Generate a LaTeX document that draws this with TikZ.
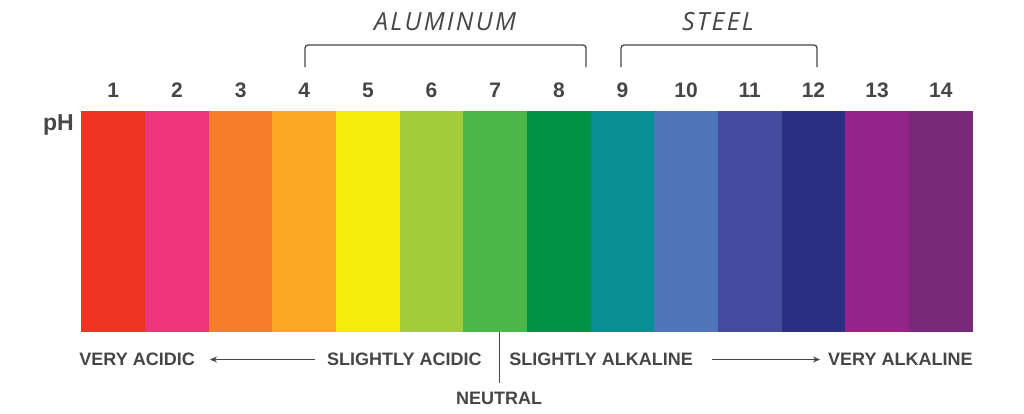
\documentclass[tikz,border=0pt]{standalone}
\usepackage{fontspec}
\setmainfont{Liberation Sans}
\newfontfamily\handfont[LetterSpace=9]{Open Sans}
\usetikzlibrary{arrows.meta,positioning}
\definecolor{Ink}{HTML}{464648}
\definecolor{Scarlet}{HTML}{EE3524}
\definecolor{Pink}{HTML}{EE3579}
\definecolor{Tangerine}{HTML}{F57F29}
\definecolor{Amber}{HTML}{FAA823}
\definecolor{Lemon}{HTML}{F4EA0C}
\definecolor{Lime}{HTML}{A3CB3A}
\definecolor{Grass}{HTML}{4CB749}
\definecolor{Emerald}{HTML}{009345}
\definecolor{Teal}{HTML}{069094}
\definecolor{Cornflower}{HTML}{4F75BA}
\definecolor{Indigo}{HTML}{444A9D}
\definecolor{Navy}{HTML}{2A2F82}
\definecolor{Magenta}{HTML}{942488}
\definecolor{Plum}{HTML}{7A287A}

\begin{document}
\begin{tikzpicture}[x=1pt,y=-1pt,every node/.style={text=Ink},cell/.style={minimum width=63.65pt,minimum height=221.5pt,inner sep=0pt,outer sep=0pt},num/.style={font=\bfseries\fontsize{21}{21}\selectfont,inner sep=0pt},tag/.style={font=\bfseries\fontsize{18}{18}\selectfont,inner sep=0pt},metal/.style={font=\handfont\itshape\fontsize{25}{25}\selectfont,inner sep=0pt},arrow/.style={-{Stealth[length=7pt,width=6pt]},line width=0.9pt,draw=Ink},bracket/.style={line width=1.3pt,draw=Ink,rounded corners=3pt}]
\useasboundingbox[fill=white] (0,0) rectangle (1024,413);

\node[cell,fill=Scarlet] (c1) at (113.3,221.3) {}; \node[cell,fill=Pink,right=0pt of c1] (c2) {}; \node[cell,fill=Tangerine,right=0pt of c2] (c3) {}; \node[cell,fill=Amber,right=0pt of c3] (c4) {};
\node[cell,fill=Lemon,right=0pt of c4] (c5) {}; \node[cell,fill=Lime,right=0pt of c5] (c6) {}; \node[cell,fill=Grass,right=0pt of c6] (c7) {}; \node[cell,fill=Emerald,right=0pt of c7] (c8) {};
\node[cell,fill=Teal,right=0pt of c8] (c9) {}; \node[cell,fill=Cornflower,right=0pt of c9] (c10) {}; \node[cell,fill=Indigo,right=0pt of c10] (c11) {};
\node[cell,fill=Navy,right=0pt of c11] (c12) {}; \node[cell,fill=Magenta,right=0pt of c12] (c13) {}; \node[cell,fill=Plum,right=0pt of c13] (c14) {};

\node[num,above=13pt of c1] (n1) {1}; \node[num,above=13pt of c2] (n2) {2}; \node[num,above=13pt of c3] (n3) {3}; \node[num,above=13pt of c4] (n4) {4}; \node[num,above=13pt of c5] (n5) {5};
\node[num,above=13pt of c6] (n6) {6}; \node[num,above=13pt of c7] (n7) {7}; \node[num,above=13pt of c8] (n8) {8}; \node[num,above=13pt of c9] (n9) {9}; \node[num,above=13pt of c10] (n10) {10};
\node[num,above=13pt of c11] (n11) {11}; \node[num,above=13pt of c12] (n12) {12}; \node[num,above=13pt of c13] (n13) {13}; \node[num,above=13pt of c14] (n14) {14};
\node[font=\bfseries\fontsize{23}{23}\selectfont,inner sep=0pt,anchor=base] (ph) at (58.5,130) {pH};

\draw[bracket] (305,67)--(305,45)--(586,45)--(586,67); \node[metal] (alu) at (445,22) {ALUMINUM};
\draw[bracket] (621,67)--(621,45)--(817,45)--(817,67); \node[metal] (steel) at (718,22) {STEEL};

\node[tag,anchor=east] (vacid) at (195,359.5) {VERY ACIDIC}; \node[tag,anchor=west] (sacid) at (327,359.5) {SLIGHTLY ACIDIC};
\node[tag,anchor=east] (salk) at (693,359.5) {SLIGHTLY ALKALINE}; \node[tag,anchor=west] (valk) at (828,359.5) {VERY ALKALINE};
\node[tag] (neutral) at (499,398.5) {NEUTRAL};
\draw[arrow,shorten <=12pt,shorten >=15pt] (sacid) -- (vacid); \draw[arrow,shorten <=19pt,shorten >=8pt] (salk) -- (valk);
\draw[draw=Ink,line width=0.9pt] (c7.south -| neutral) -- ++(0,51);

\end{tikzpicture}
\end{document}
